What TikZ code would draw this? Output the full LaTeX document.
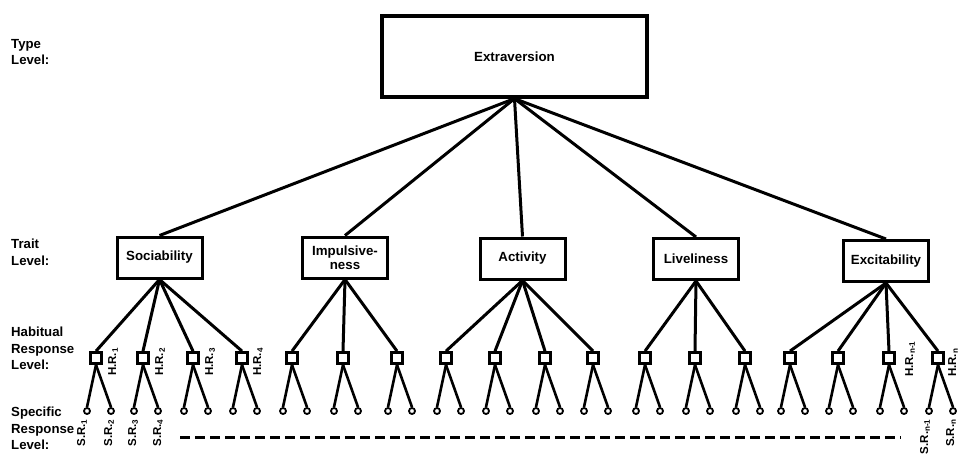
\documentclass[tikz,border=0pt]{standalone}
\usepackage{fontspec}
\setmainfont{Liberation Sans}
\begin{document}
\begin{tikzpicture}[x=1pt,y=-1pt,
  lbl/.style={font=\bfseries\fontsize{13.2}{16.5}\selectfont, align=left, anchor=north west, inner sep=0},
  typebox/.style={draw, line width=3.2pt, minimum width=265pt, minimum height=81pt, font=\bfseries\fontsize{13.3}{16}\selectfont},
  traitbox/.style={draw, line width=3pt, minimum width=85pt, minimum height=41pt, font=\bfseries\fontsize{13.3}{14}\selectfont, align=center, inner sep=1pt},
  hsq/.style={draw, line width=2.8pt, minimum size=11pt, inner sep=0},
  srdot/.style={draw, circle, line width=1.8pt, minimum size=6pt, inner sep=0},
  link/.style={line width=3pt},
  leg/.style={line width=2.6pt},
  rlab/.style={rotate=90, font=\bfseries\fontsize{11.5}{12}\selectfont, inner sep=0}]
\useasboundingbox (0,0) rectangle (962,464);

% level labels
\node[lbl] (tl) at (11,39) {Type\\Level:};
\node[lbl] (trl) at (11,239) {Trait\\Level:};
\node[lbl] (hl) at (11,327) {Habitual\\Response\\Level:};
\node[lbl] (sl) at (11,407) {Specific\\Response\\Level:};

% type
\node[typebox] (ext) at (514.5,56.5) {Extraversion};

% traits
\node[traitbox] (soc) at (159.5,257.5) {Sociability};
\node[traitbox] (imp) at (345,257.5) {Impulsive-\\ness};
\node[traitbox] (act) at (522.5,258.5) {Activity};
\node[traitbox] (liv) at (696,259) {Liveliness};
\node[traitbox] (exc) at (886,261) {Excitability};

\foreach \t in {soc,imp,act,liv,exc} \draw[link] (ext.south) -- (\t.north);

% habitual responses and specific responses
\foreach \i/\x in {1/96,2/143,3/193,4/242,5/292,6/343,7/397,8/446,9/495,10/545,11/593,12/645,13/695,14/745,15/790,16/838,17/889,18/938}{
  \node[hsq] (h\i) at (\x,358) {};
  \node[srdot] (a\i) at (\x-9,411) {};
  \node[srdot] (b\i) at (\x+15,411) {};
  \draw[leg] (h\i.south) -- (a\i.north);
  \draw[leg] (h\i.south) -- (b\i.north);
}

\foreach \i in {1,2,3,4} \draw[link] (soc.south) -- (h\i.north);
\foreach \i in {5,6,7} \draw[link] (imp.south) -- (h\i.north);
\foreach \i in {8,9,10,11} \draw[link] (act.south) -- (h\i.north);
\foreach \i in {12,13,14} \draw[link] (liv.south) -- (h\i.north);
\foreach \i in {15,16,17,18} \draw[link] (exc.south) -- (h\i.north);

% H.R. labels
\node[rlab, anchor=west] (hr1) at (113,376) {H.R.\textsubscript{1}};
\node[rlab, anchor=west] (hr2) at (160,376) {H.R.\textsubscript{2}};
\node[rlab, anchor=west] (hr3) at (210,376) {H.R.\textsubscript{3}};
\node[rlab, anchor=west] (hr4) at (258,376) {H.R.\textsubscript{4}};
\node[rlab, anchor=west] (hrn1) at (910,377) {H.R.\textsubscript{n-1}};
\node[rlab, anchor=west] (hrn) at (953,377) {H.R.\textsubscript{n}};

% S.R. labels
\node[rlab, anchor=east] (sr1) at (82,419) {S.R.\textsubscript{1}};
\node[rlab, anchor=east] (sr2) at (109,419) {S.R.\textsubscript{2}};
\node[rlab, anchor=east] (sr3) at (133,419) {S.R.\textsubscript{3}};
\node[rlab, anchor=east] (sr4) at (158,419) {S.R.\textsubscript{4}};
\node[rlab, anchor=east] (srn1) at (925,419) {S.R.\textsubscript{n-1}};
\node[rlab, anchor=east] (srn) at (951,419) {S.R.\textsubscript{n}};

% dashed continuation
\coordinate (d1) at (180,437);
\coordinate (d2) at (901,437);
\draw[line width=3pt, dash pattern=on 10pt off 5pt] (d1) -- (d2);
\end{tikzpicture}
\end{document}
